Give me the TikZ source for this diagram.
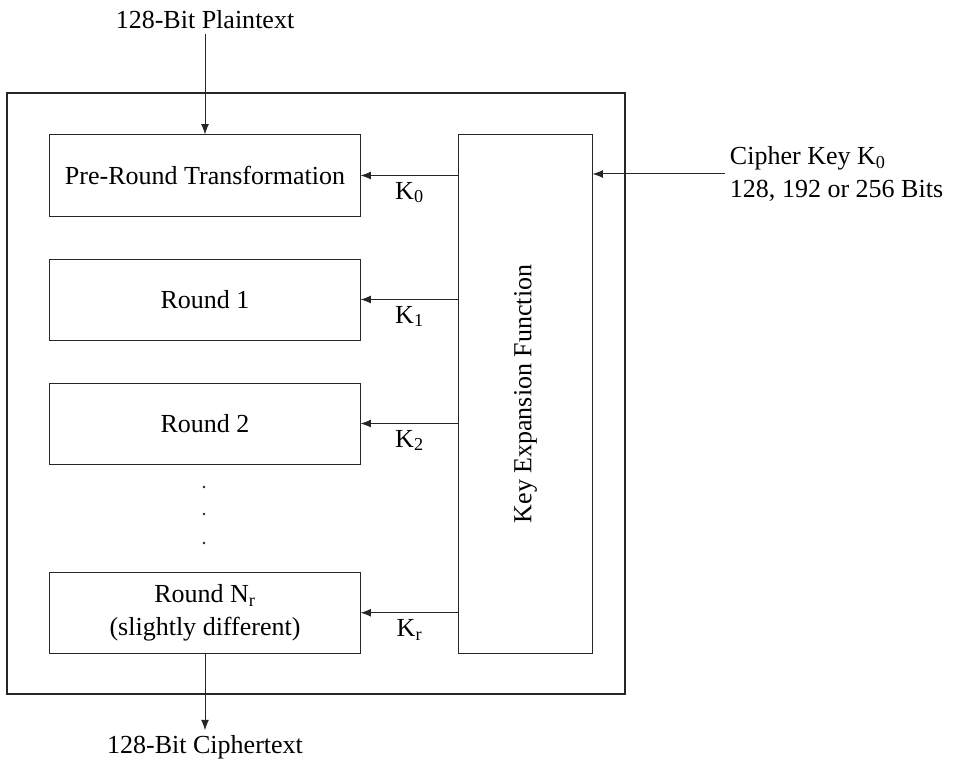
\documentclass[tikz,border=0pt]{standalone}
\usepackage{fontspec}
\setmainfont{Liberation Serif}
\usetikzlibrary{arrows.meta,positioning}

\begin{document}
\begin{tikzpicture}[
    x=0.025cm, y=0.025cm,
    node distance=1.05cm,
    every node/.style={font=\fontsize{18.5pt}{23pt}\selectfont, align=center},
    stagebox/.style={
      rectangle, draw=black!85, line width=0.7pt,
      minimum width=7.75cm, minimum height=2.025cm, inner sep=0pt
    },
    keybox/.style={
      rectangle, draw=black!85, line width=0.7pt, rotate=90,
      minimum width=12.95cm, minimum height=3.325cm
    },
    flow/.style={-{Latex[length=2.6mm,width=2mm]}, line width=0.7pt, draw=black!85}
  ]
    \useasboundingbox (0,0) rectangle (960,761);

    % outer frame
    \draw[line width=1.4pt, black!85] (7,668) rectangle (625,67);

    \node[stagebox] (pre) at (205,585.5) {Pre-Round Transformation};
    \node[stagebox, below=of pre] (round1) {Round 1};
    \node[stagebox, below=of round1] (round2) {Round 2};
    \node[stagebox, below=2.68cm of round2] (roundn) {Round N\textsubscript{r}\\(slightly different)};
    \node[keybox] (keyexp) at (525.5,367) {Key Expansion Function};

    \node (plain) at (205,741) {128-Bit Plaintext};
    \node (cipher) at (205,14) {128-Bit Ciphertext};
    \node[anchor=west, align=left] (ckey) at (725,587) {Cipher Key K\textsubscript{0}\\128, 192 or 256 Bits};

    % dots between the rounds
    \foreach \y in {274,247,218}
      \fill[black!85] (204,\y) circle (1.3);

    \draw[flow] (plain) -- (pre);
    \draw[flow] (roundn) -- (cipher);
    \draw[flow] (ckey.west) -- (keyexp.south |- ckey.west);
    \draw[flow] (keyexp.north |- pre.east) -- node[below=1pt] {K\textsubscript{0}} (pre.east);
    \draw[flow] (keyexp.north |- round1.east) -- node[below=1pt] {K\textsubscript{1}} (round1.east);
    \draw[flow] (keyexp.north |- round2.east) -- node[below=1pt] {K\textsubscript{2}} (round2.east);
    \draw[flow] (keyexp.north |- roundn.east) -- node[below=1pt] {K\textsubscript{r}} (roundn.east);
  \end{tikzpicture}
\end{document}
